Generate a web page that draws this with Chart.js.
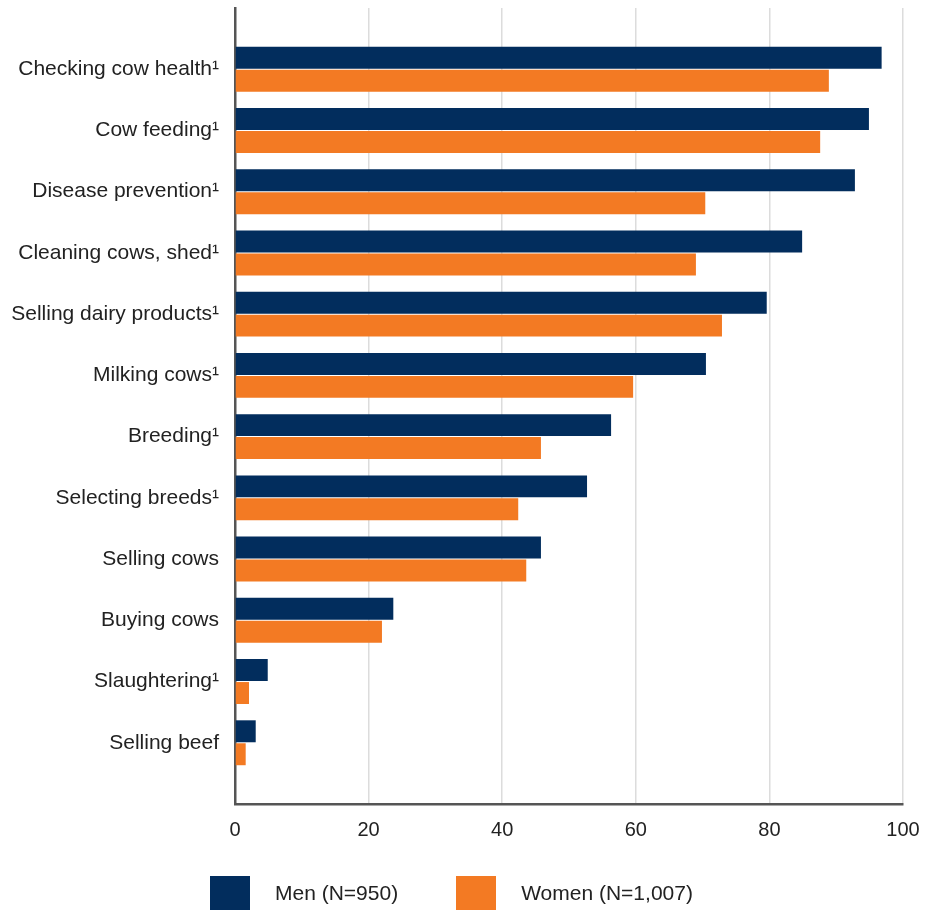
<!DOCTYPE html>
<html>
<head>
<meta charset="utf-8">
<script src="https://cdn.jsdelivr.net/npm/chart.js@4/dist/chart.umd.min.js"></script>
<style>
  body { margin: 0; background: #fff; }
  #wrap { position: relative; width: 938px; height: 910px; overflow: hidden; }
  #legend {
    position: absolute; left: 210px; top: 876px;
    display: flex; font-family: 'Liberation Sans', Arial, sans-serif;
    font-size: 21px; color: #222;
  }
  .item { display: flex; align-items: flex-start; margin-right: 58px; }
  .swatch { width: 40px; height: 40px; margin-right: 25px; }
  .item span { line-height: 34px; white-space: nowrap; }
</style>
</head>
<body>
<div id="wrap">
  <canvas id="activity-chart" width="938" height="910"></canvas>
  <div id="legend"></div>
</div>
<script>
// Dairy activities by gender (% of respondents)
const activities = [
    'Checking cow health¹',
    'Cow feeding¹',
    'Disease prevention¹',
    'Cleaning cows, shed¹',
    'Selling dairy products¹',
    'Milking cows¹',
    'Breeding¹',
    'Selecting breeds¹',
    'Selling cows',
    'Buying cows',
    'Slaughtering¹',
    'Selling beef'
];
const menValues = [96.8, 94.9, 92.8, 84.9, 79.6, 70.5, 56.3, 52.7, 45.8, 23.7, 4.9, 3.1];
const womenValues = [88.9, 87.6, 70.4, 69.0, 72.9, 59.6, 45.8, 42.4, 43.6, 22.0, 2.1, 1.6];
const xTicks = [0, 20, 40, 60, 80, 100];

// blank slots at both ends leave the empty band above and below the bars
const labels = [''].concat(activities, ['']);
const pad = arr => [null].concat(arr, [null]);

const FONT = 'Liberation Sans, Arial, sans-serif';
const ctx = document.getElementById('activity-chart');

// legend built as html so the swatch/text spacing can follow the original
const htmlLegend = {
    id: 'htmlLegend',
    afterUpdate(chart) {
        const box = document.getElementById('legend');
        box.innerHTML = '';
        chart.data.datasets.forEach(ds => {
            const item = document.createElement('div');
            item.className = 'item';
            const sw = document.createElement('div');
            sw.className = 'swatch';
            sw.style.background = ds.backgroundColor;
            const txt = document.createElement('span');
            txt.textContent = ds.label;
            item.appendChild(sw);
            item.appendChild(txt);
            box.appendChild(item);
        });
    }
};

new Chart(ctx, {
    type: 'bar',
    data: {
        labels: labels,
        datasets: [{
            label: 'Men (N=950)',
            data: pad(menValues),
            backgroundColor: '#022d5d',
            borderWidth: 0,
            categoryPercentage: 0.75,
            barPercentage: 0.956
        }, {
            label: 'Women (N=1,007)',
            data: pad(womenValues),
            backgroundColor: '#f37a23',
            borderWidth: 0,
            categoryPercentage: 0.75,
            barPercentage: 0.956
        }]
    },
    options: {
        indexAxis: 'y',
        responsive: false,
        animation: false,
        layout: {
            padding: { top: 8, right: 35, left: 0, bottom: 66 }
        },
        scales: {
            x: {
                min: 0,
                max: 100,
                afterBuildTicks: scale => {
                    scale.ticks = xTicks.map(v => ({ value: v }));
                },
                afterFit: scale => { scale.height = 40; },
                grid: {
                    color: '#dcdcdc',
                    lineWidth: 1.5,
                    drawTicks: false
                },
                border: { color: '#555', width: 2.5 },
                ticks: {
                    color: '#222',
                    padding: 14,
                    font: { family: FONT, size: 20 }
                }
            },
            y: {
                offset: false,
                grid: { display: false, drawTicks: false },
                border: { color: '#555', width: 2.5 },
                afterFit: scale => {
                    scale.width = 235;
                    scale.paddingTop = 0;
                    scale.paddingBottom = 0;
                },
                ticks: {
                    color: '#222',
                    padding: 16,
                    autoSkip: false,
                    font: { family: FONT, size: 21 }
                }
            }
        },
        plugins: {
            legend: { display: false },
            tooltip: { enabled: false }
        }
    },
    plugins: [htmlLegend]
});
</script>
</body>
</html>
